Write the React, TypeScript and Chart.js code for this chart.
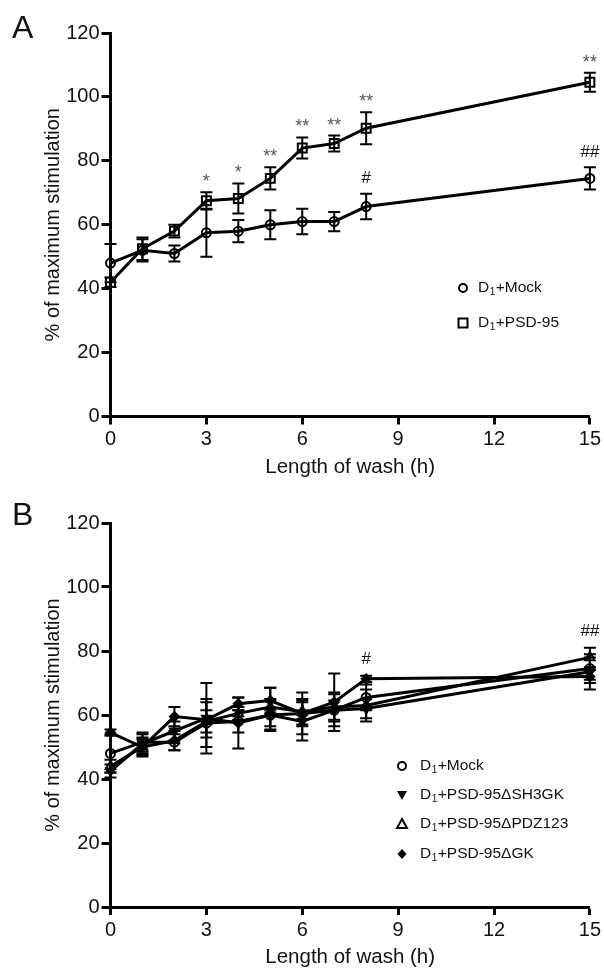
import React, { useEffect, useRef } from 'react';
import { Chart, registerables } from 'chart.js';

Chart.register(...registerables);

const FONT = '"Liberation Sans", Arial, Helvetica, sans-serif';

// ---------- data ----------
const HOURS = [0, 1, 2, 3, 4, 5, 6, 7, 8, 15];
const X_MIN = 0, X_MAX = 15, X_STEP = 3;
const Y_MIN = 0, Y_MAX = 120, Y_STEP = 20;

const X_TITLE = 'Length of wash (h)';
const Y_TITLE = '% of maximum stimulation';

// Panel A
const A_MOCK = [48, 52, 51, 57.5, 58, 60, 61, 61, 65.7, 74.5];
const A_MOCK_ERR = [6, 3.5, 2.5, 7.5, 3.5, 4.5, 4, 3, 4, 3.5];
const A_PSD95 = [42, 52.5, 58, 67.5, 68.2, 74.5, 84, 85.4, 90.2, 104.6];
const A_PSD95_ERR = [1.5, 3.5, 2, 2.7, 4.7, 3.5, 3.3, 2.5, 5, 3];
const A_LABELS = ['D₁+Mock', 'D₁+PSD-95'];
const A_STAR_HOURS = [3, 4, 5, 6, 7, 8, 15];
const A_STAR_TEXT = ['*', '*', '**', '**', '**', '**', '**'];
const A_HASH_HOURS = [8, 15];
const A_HASH_TEXT = ['#', '##'];

// Panel B
const B_MOCK = [48, 51.5, 51.5, 57.5, 58, 60, 60.5, 61.5, 65.5, 74.5];
const B_MOCK_ERR = [6, 3, 2.5, 7.5, 3.5, 4.5, 4, 3, 4, 3.5];
const B_SH3GK = [42.5, 51, 55, 59, 57.5, 60, 58, 61.5, 62, 73.5];
const B_SH3GK_ERR = [2, 3, 3, 11, 8, 5, 6, 5, 3, 5.5];
const B_PDZ123 = [44, 50, 52, 58, 60.5, 62.5, 61, 62.5, 63, 78];
const B_PDZ123_ERR = [2, 2.5, 3, 3.5, 2, 6, 4, 4.5, 5, 3];
const B_GK = [54.5, 50, 59.5, 58.5, 63.5, 64.5, 60.5, 64, 71.3, 72];
const B_GK_ERR = [1, 3, 3, 5.5, 2, 4, 6.5, 9, 1, 2];
const B_LABELS = ['D₁+Mock', 'D₁+PSD-95ΔSH3GK', 'D₁+PSD-95ΔPDZ123', 'D₁+PSD-95ΔGK'];
const B_HASH_HOURS = [8, 15];
const B_HASH_TEXT = ['#', '##'];

// ---------- helpers ----------
type Marker = 'circle' | 'rect' | 'triDown' | 'triUp' | 'diamond';

function makeDataset(label: string, values: number[], errors: number[], marker: Marker) {
  const styleMap: any = {
    circle: { pointStyle: 'circle', r: 4.5, rot: 0, fill: 'rgba(0,0,0,0)' },
    rect: { pointStyle: 'rect', r: 6.3, rot: 0, fill: 'rgba(0,0,0,0)' },
    triDown: { pointStyle: 'triangle', r: 5, rot: 180, fill: '#000' },
    triUp: { pointStyle: 'triangle', r: 5.5, rot: 0, fill: 'rgba(0,0,0,0)' },
    diamond: { pointStyle: 'rectRot', r: 4.5, rot: 0, fill: '#000' },
  };
  const s = styleMap[marker];
  return {
    label,
    data: HOURS.map((h, i) => ({ x: h, y: values[i] })),
    errors,
    marker,
    showLine: true,
    borderColor: '#000',
    borderWidth: 3,
    pointStyle: s.pointStyle,
    pointRadius: s.r,
    pointRotation: s.rot,
    pointBackgroundColor: s.fill,
    pointBorderColor: '#000',
    pointBorderWidth: 2,
    clip: false,
  } as any;
}

function drawMarker(ctx: CanvasRenderingContext2D, marker: Marker, x: number, y: number) {
  ctx.save();
  ctx.lineWidth = 2;
  ctx.strokeStyle = '#000';
  ctx.fillStyle = '#000';
  ctx.beginPath();
  if (marker === 'circle') {
    ctx.arc(x, y, 4, 0, Math.PI * 2);
    ctx.stroke();
  } else if (marker === 'rect') {
    ctx.rect(x - 4.5, y - 4.5, 9, 9);
    ctx.stroke();
  } else if (marker === 'triDown') {
    ctx.moveTo(x - 5, y - 4);
    ctx.lineTo(x + 5, y - 4);
    ctx.lineTo(x, y + 5);
    ctx.closePath();
    ctx.fill();
  } else if (marker === 'triUp') {
    ctx.moveTo(x - 5, y + 4);
    ctx.lineTo(x + 5, y + 4);
    ctx.lineTo(x, y - 5);
    ctx.closePath();
    ctx.stroke();
  } else if (marker === 'diamond') {
    ctx.moveTo(x, y - 5);
    ctx.lineTo(x + 4.5, y);
    ctx.lineTo(x, y + 5);
    ctx.lineTo(x - 4.5, y);
    ctx.closePath();
    ctx.fill();
  }
  ctx.restore();
}

function drawSubLabel(ctx: CanvasRenderingContext2D, text: string, x: number, y: number, size: number) {
  const parts = text.split('₁');
  ctx.save();
  ctx.fillStyle = '#111';
  ctx.textBaseline = 'middle';
  ctx.textAlign = 'left';
  ctx.font = `${size}px ${FONT}`;
  let cx = x;
  ctx.fillText(parts[0], cx, y);
  cx += ctx.measureText(parts[0]).width;
  if (parts.length > 1) {
    ctx.font = `${Math.round(size * 0.62)}px ${FONT}`;
    ctx.fillText('1', cx + 0.5, y + 4);
    cx += ctx.measureText('1').width + 1;
    ctx.font = `${size}px ${FONT}`;
    ctx.fillText(parts[1], cx, y);
  }
  ctx.restore();
}

const errorBarPlugin = {
  id: 'errorBars',
  afterDatasetsDraw(chart: any) {
    const { ctx } = chart;
    const xs = chart.scales.x, ys = chart.scales.y;
    ctx.save();
    ctx.strokeStyle = '#000';
    ctx.lineWidth = 2;
    chart.data.datasets.forEach((ds: any) => {
      ds.data.forEach((p: any, i: number) => {
        const e = ds.errors[i];
        const px = xs.getPixelForValue(p.x);
        const top = ys.getPixelForValue(p.y + e);
        const bot = ys.getPixelForValue(p.y - e);
        ctx.beginPath();
        ctx.moveTo(px, top);
        ctx.lineTo(px, bot);
        ctx.moveTo(px - 6, top);
        ctx.lineTo(px + 6, top);
        ctx.moveTo(px - 6, bot);
        ctx.lineTo(px + 6, bot);
        ctx.stroke();
      });
    });
    ctx.restore();
  },
};

interface PanelProps {
  letter: string;
  datasets: any[];
  markers: Marker[];
  legendX: number;
  legendTextX: number;
  legendY: number[];
  notes: { hours: number[]; text: string[]; series: number | null; offset: number; color: string; size: number }[];
  height: number;
  top: number;
  bottom: number;
  titlePad: number;
  letterBaseline: number;
}

function Panel(props: PanelProps) {
  const ref = useRef<HTMLCanvasElement>(null);
  useEffect(() => {
    const canvas = ref.current!;
    const textPlugin = {
      id: 'panelText',
      afterDraw(chart: any) {
        const { ctx } = chart;
        const xs = chart.scales.x, ys = chart.scales.y;
        ctx.save();
        // panel letter
        ctx.font = `32px ${FONT}`;
        ctx.fillStyle = '#111';
        ctx.textBaseline = 'alphabetic';
        ctx.textAlign = 'left';
        ctx.fillText(props.letter, 12, props.letterBaseline);
        // legend
        chart.data.datasets.forEach((ds: any, i: number) => {
          drawMarker(ctx, props.markers[i], props.legendX, props.legendY[i]);
          drawSubLabel(ctx, ds.label, props.legendTextX, props.legendY[i], 15.5);
        });
        // annotations
        props.notes.forEach((n) => {
          ctx.font = `${n.size}px ${FONT}`;
          ctx.fillStyle = n.color;
          ctx.textAlign = 'center';
          ctx.textBaseline = 'middle';
          n.hours.forEach((h, k) => {
            const idx = HOURS.indexOf(h);
            let topVal = -Infinity;
            chart.data.datasets.forEach((ds: any, di: number) => {
              if (n.series !== null && di !== n.series) return;
              topVal = Math.max(topVal, ds.data[idx].y + ds.errors[idx]);
            });
            const px = xs.getPixelForValue(h);
            const py = ys.getPixelForValue(topVal) - n.offset;
            ctx.fillText(n.text[k], px, py);
          });
        });
        ctx.restore();
      },
    };
    const xH = props.height - props.bottom;
    const chart = new Chart(canvas, {
      type: 'scatter',
      data: { datasets: props.datasets },
      plugins: [errorBarPlugin, textPlugin],
      options: {
        animation: false,
        responsive: false,
        maintainAspectRatio: false,
        layout: { padding: { top: props.top, right: 10.5, bottom: 0, left: 0 } },
        plugins: { legend: { display: false }, tooltip: { enabled: false } },
        scales: {
          x: {
            type: 'linear',
            min: X_MIN,
            max: X_MAX,
            afterFit: (s: any) => { s.height = xH; },
            ticks: { stepSize: X_STEP, color: '#111', font: { family: FONT, size: 20 }, padding: 3, maxRotation: 0 },
            grid: { display: true, drawOnChartArea: false, drawTicks: true, tickLength: 8, tickWidth: 3, tickColor: '#000' },
            border: { display: true, width: 3, color: '#000' },
            title: { display: true, text: X_TITLE, color: '#111', font: { family: FONT, size: 20.5 }, padding: { top: 0, bottom: props.titlePad } },
          },
          y: {
            type: 'linear',
            min: Y_MIN,
            max: Y_MAX,
            afterFit: (s: any) => { s.width = 110.5; },
            ticks: { stepSize: Y_STEP, color: '#111', font: { family: FONT, size: 20 }, padding: 2 },
            grid: { display: true, drawOnChartArea: false, drawTicks: true, tickLength: 9, tickWidth: 3, tickColor: '#000' },
            border: { display: true, width: 3, color: '#000' },
            title: { display: true, text: Y_TITLE, color: '#111', font: { family: FONT, size: 20 }, padding: { top: 41, bottom: 0 } },
          },
        },
      } as any,
    });
    return () => chart.destroy();
  }, []);
  return <canvas ref={ref} width={604} height={props.height} style={{ display: 'block', width: 604, height: props.height }} />;
}

export default function App() {
  const aSets = [
    makeDataset(A_LABELS[0], A_MOCK, A_MOCK_ERR, 'circle'),
    makeDataset(A_LABELS[1], A_PSD95, A_PSD95_ERR, 'rect'),
  ];
  const bSets = [
    makeDataset(B_LABELS[0], B_MOCK, B_MOCK_ERR, 'circle'),
    makeDataset(B_LABELS[1], B_SH3GK, B_SH3GK_ERR, 'triDown'),
    makeDataset(B_LABELS[2], B_PDZ123, B_PDZ123_ERR, 'triUp'),
    makeDataset(B_LABELS[3], B_GK, B_GK_ERR, 'diamond'),
  ];
  return (
    <div style={{ position: 'absolute', left: 0, top: 0, width: 604, height: 970, background: '#fff' }}>
      <Panel
        letter="A"
        datasets={aSets}
        markers={['circle', 'rect']}
        legendX={463}
        legendTextX={478}
        legendY={[288, 323]}
        notes={[
          { hours: A_STAR_HOURS, text: A_STAR_TEXT, series: 1, offset: 10, color: '#555', size: 18 },
          { hours: A_HASH_HOURS, text: A_HASH_TEXT, series: 0, offset: 15, color: '#111', size: 17 },
        ]}
        height={485}
        top={33}
        bottom={416.5}
        titlePad={5}
        letterBaseline={38}
      />
      <Panel
        letter="B"
        datasets={bSets}
        markers={['circle', 'triDown', 'triUp', 'diamond']}
        legendX={402}
        legendTextX={420}
        legendY={[281, 310, 339, 369]}
        notes={[{ hours: B_HASH_HOURS, text: B_HASH_TEXT, series: null, offset: 16, color: '#111', size: 17 }]}
        height={485}
        top={38}
        bottom={422}
        titlePad={0}
        letterBaseline={40}
      />
    </div>
  );
}
